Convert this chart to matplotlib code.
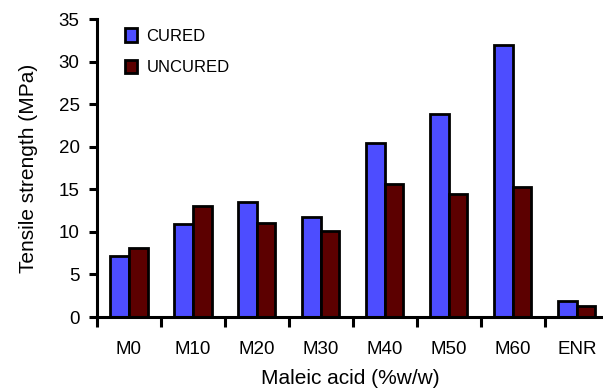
import matplotlib
matplotlib.use("Agg")
import matplotlib.pyplot as plt
import numpy as np
from matplotlib.ticker import FixedLocator

categories = ["M0", "M10", "M20", "M30", "M40", "M50", "M60", "ENR"]
cured = [7.2, 10.9, 13.5, 11.8, 20.4, 23.8, 32.0, 1.9]
uncured = [8.1, 13.0, 11.0, 10.1, 15.6, 14.5, 15.3, 1.3]
y_ticks = [0, 5, 10, 15, 20, 25, 30, 35]

plt.rcParams["font.family"] = ["Liberation Sans", "DejaVu Sans"]

fig = plt.figure(figsize=(6.03, 3.88), dpi=100)
ax = fig.add_axes([97 / 603, 71 / 388, 506 / 603, 298 / 388])

x = np.arange(len(categories))
w = 0.29
edge = dict(edgecolor="black", linewidth=2.0)
ax.bar(x - w / 2, cured, w, color="#4d4dff", label="CURED", **edge)
ax.bar(x + w / 2, uncured, w, color="#5c0000", label="UNCURED", **edge)

ax.set_xlim(-0.5, 7.41)
ax.set_ylim(0, 35)
ax.set_yticks(y_ticks)
ax.set_xticks(x)
ax.set_xticklabels(categories)
ax.xaxis.set_minor_locator(FixedLocator(np.arange(-0.5, 7.0, 1.0)))

for s in ["top", "right"]:
    ax.spines[s].set_visible(False)
for s in ["left", "bottom"]:
    ax.spines[s].set_linewidth(2.2)

ax.tick_params(axis="y", which="major", length=6, width=2.2, labelsize=13.5, pad=6.5)
ax.tick_params(axis="x", which="major", length=0, labelsize=13.5, pad=17)
ax.tick_params(axis="x", which="minor", length=7, width=2.2)

ax.set_ylabel("Tensile strength (MPa)", fontsize=15, labelpad=15)
ax.set_xlabel("Maleic acid (%w/w)", fontsize=15, labelpad=8)

ax.legend(loc="upper left", bbox_to_anchor=(0.025, 1.02), frameon=False,
          fontsize=12, handlelength=0.75, handleheight=0.9,
          labelspacing=0.95, handletextpad=0.55)

fig.savefig("out.png", dpi=100)
